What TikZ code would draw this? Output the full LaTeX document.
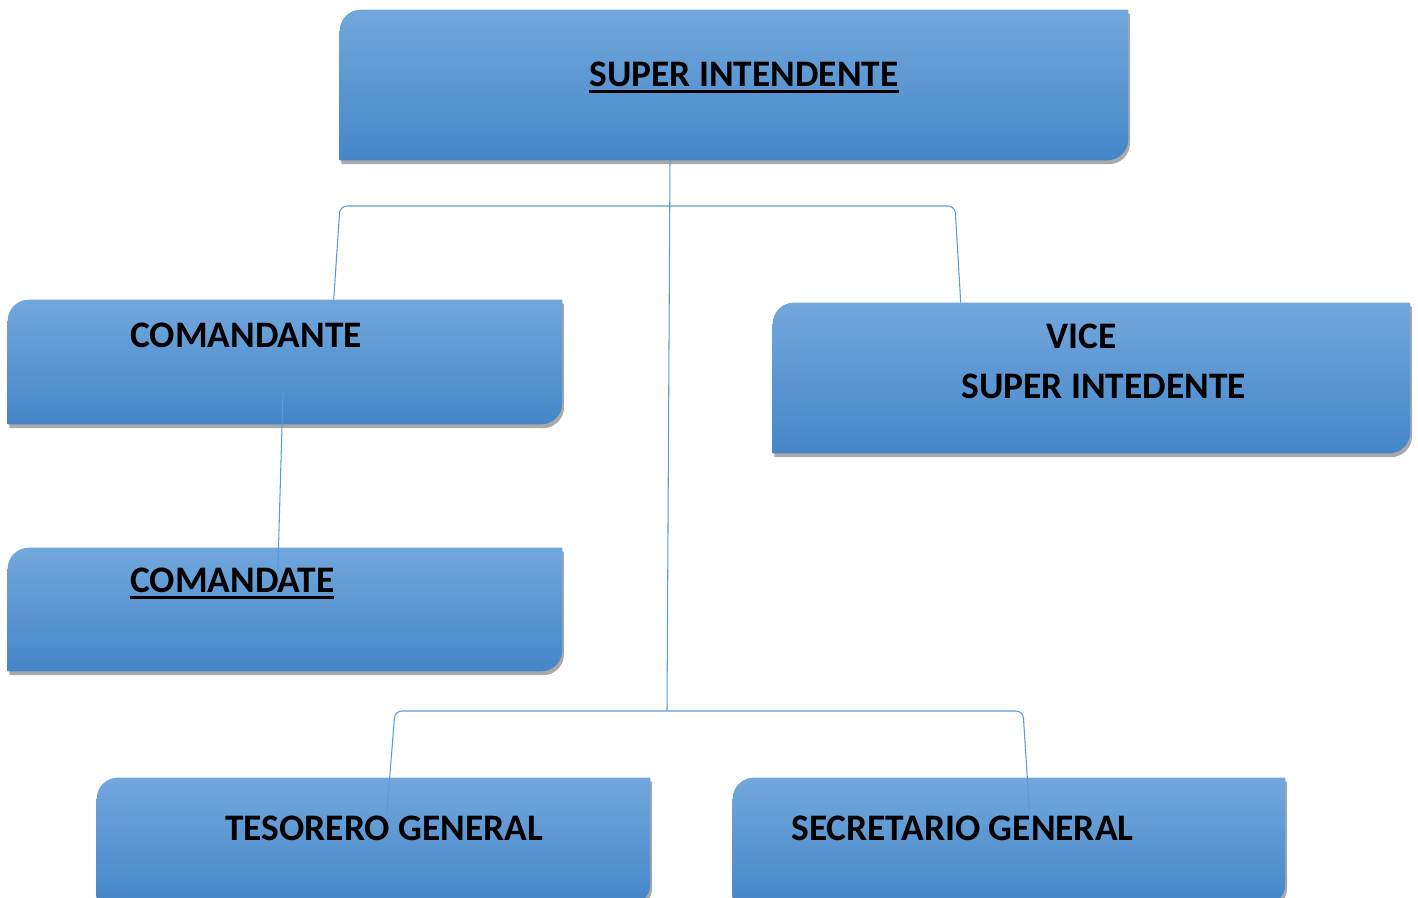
\documentclass[tikz,border=0pt]{standalone}
\usepackage{fontspec}
\setmainfont{Carlito}
\usetikzlibrary{shadows,calc}

\definecolor{boxtop}{HTML}{72A7DC}
\definecolor{boxmid}{HTML}{589CDB}
\definecolor{boxbot}{HTML}{4586C8}
\definecolor{linkblue}{HTML}{5B9BD5}

% thick underline
\newsavebox\ulbox
\newcommand{\ulbold}[1]{\sbox\ulbox{#1}\rlap{\rule[-3.2pt]{\wd\ulbox}{1.3pt}}\usebox\ulbox}

\tikzset{
  orgbox/.style={rectangle, inner sep=0pt},
  boxfill/.style={top color=boxtop, middle color=boxmid, bottom color=boxbot,
    drop shadow={shadow xshift=1pt, shadow yshift=-2.2pt, opacity=0.45, fill=black!75}},
  lbl/.style={inner sep=0pt, font=\fontsize{21.3}{28.5}\selectfont\bfseries},
  link/.style={draw=linkblue, line width=0.6pt, rounded corners=4pt}
}

\begin{document}
\begin{tikzpicture}[x=0.02cm, y=-0.02cm]
   \useasboundingbox (0,0) rectangle (1418,898);

   \node[orgbox, minimum width=15.76cm, minimum height=3cm] (sup) at (734,85) {};
   \node[orgbox, minimum width=11.08cm, minimum height=2.48cm] (com) at (285,362) {};
   \node[orgbox, minimum width=11.08cm, minimum height=2.46cm] (cmd) at (285,609.5) {};
   \node[orgbox, minimum width=12.74cm, minimum height=3cm] (vice) at (1091.5,378) {};
   \node[orgbox, minimum width=11.06cm, minimum height=2.54cm] (tes) at (373.5,841.5) {};
   \node[orgbox, minimum width=11.04cm, minimum height=2.54cm] (sec) at (1009,841.5) {};

   % boxes, rounded at top left and bottom right
   \foreach \n in {sup,com,cmd,vice,tes,sec}
     \path[boxfill] (\n.south west) -- ([yshift=-12pt]\n.north west)
       arc[start angle=180, end angle=90, radius=12pt] -- (\n.north east)
       -- ([yshift=12pt]\n.south east)
       arc[start angle=0, end angle=-90, radius=12pt] -- cycle;

   \coordinate (bus1) at (670,206);
   \coordinate (bus2) at (667,711);

   \draw[link] (bus1 |- sup.south) -- (bus2);
   \draw[link] (bus1) -- (340,206) -- ($(com.north west)+(326,0)$);
   \draw[link] (bus1) -- (955,206) -- ($(vice.north west)+(188,0)$);
   \draw[link] ($(com.center)+(-2,30)$) -- ($(cmd.north west)+(270,27)$);
   \draw[link] (bus2) -- (395,711) -- ($(tes.north west)+(290,37)$);
   \draw[link] (bus2) -- (1023,711) -- ($(sec.north west)+(297,37)$);

   \node[lbl, anchor=base] (sup-t) at (744,87) {\ulbold{SUPER INTENDENTE}};
   \node[lbl, anchor=base west] (com-t) at (130,348) {COMANDANTE};
   \node[lbl, anchor=base west] (cmd-t) at (130,593) {\ulbold{COMANDATE}};
   \node[lbl, anchor=west, align=left] (vice-t) at (961,361) {\hspace*{1.7cm}VICE\\SUPER INTEDENTE};
   \node[lbl, anchor=base west] (tes-t) at (225,840) {TESORERO GENERAL};
   \node[lbl, anchor=base west] (sec-t) at (791,840) {SECRETARIO GENERAL};
\end{tikzpicture}
\end{document}
